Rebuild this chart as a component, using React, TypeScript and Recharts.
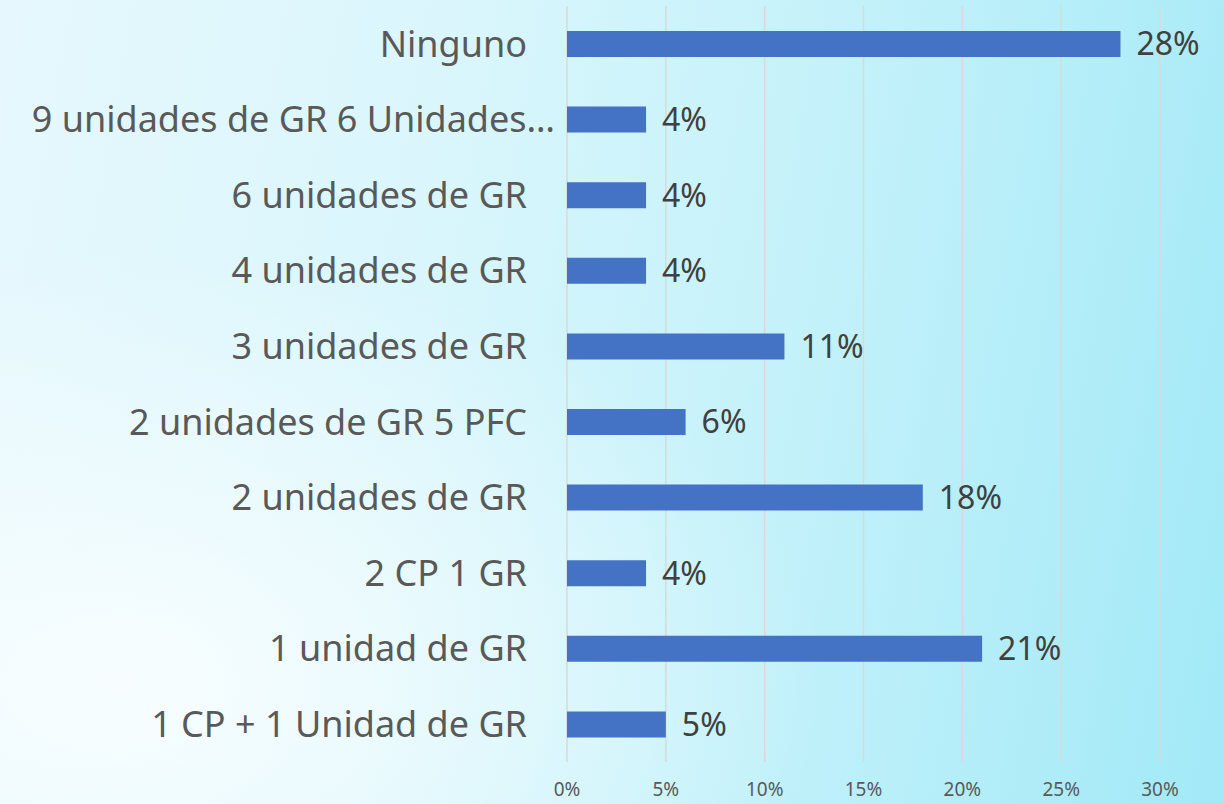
import React from 'react';
import {
  BarChart,
  Bar,
  XAxis,
  YAxis,
  CartesianGrid,
  LabelList
} from 'recharts';

const categories = [
  'Ninguno',
  '9 unidades de GR 6 Unidades…',
  '6 unidades de GR',
  '4 unidades de GR',
  '3 unidades de GR',
  '2 unidades de GR 5 PFC',
  '2 unidades de GR',
  '2 CP 1 GR',
  '1 unidad de GR',
  '1 CP + 1 Unidad de GR',
];

const percentages = [28, 4, 4, 4, 11, 6, 18, 4, 21, 5];

const xTicks = [0, 5, 10, 15, 20, 25, 30];

const data = categories.map((name, i) => ({ name, value: percentages[i] }));

const FONT = '"Noto Sans", "Open Sans", sans-serif';

// truncated label overflows toward the bars, like in the source
const CategoryTick = (props: any) => {
  const { x, y, payload } = props;
  const text: string = payload.value;
  const shift = text.endsWith('…') ? 28 : 0;
  return (
    <text
      x={x + shift}
      y={y}
      dy="0.355em"
      textAnchor="end"
      fill="#595959"
      fontSize={36}
      fontFamily={FONT}
    >
      {text}
    </text>
  );
};

export default function App() {
  return (
    <div
      style={{
        position: 'absolute',
        left: 0,
        top: 0,
        width: 1224,
        height: 804,
        overflow: 'hidden',
        fontFamily: FONT,
        background:
          'radial-gradient(ellipse at 10% 85%, rgba(250,254,255,0.9) 0%, rgba(250,254,255,0) 45%), linear-gradient(100deg, #e6f8fd 0%, #d9f6fc 35%, #c2f1fa 65%, #a2e9f7 100%)',
      }}
    >
      <BarChart
        width={1224}
        height={804}
        data={data}
        layout="vertical"
        margin={{ top: 6, right: 64, bottom: 0, left: 0 }}
        barCategoryGap={0}
      >
        <CartesianGrid horizontal={false} stroke="#d9d9d9" strokeWidth={1.5} />
        <XAxis
          type="number"
          domain={[0, 30]}
          ticks={xTicks}
          tickFormatter={(v: number) => `${v}%`}
          axisLine={false}
          tickLine={false}
          tickMargin={15}
          height={42}
          tick={{ fill: '#595959', fontSize: 19, fontFamily: FONT }}
        />
        <YAxis
          type="category"
          dataKey="name"
          width={567}
          axisLine={false}
          tickLine={false}
          tickSize={0}
          tickMargin={40}
          interval={0}
          tick={<CategoryTick />}
        />
        <Bar dataKey="value" fill="#4472c4" barSize={26} isAnimationActive={false}>
          <LabelList
            dataKey="value"
            position="right"
            offset={16}
            formatter={(v: number) => `${v}%`}
            style={{ fill: '#404040', fontSize: 32, fontFamily: FONT }}
          />
        </Bar>
      </BarChart>
    </div>
  );
}
